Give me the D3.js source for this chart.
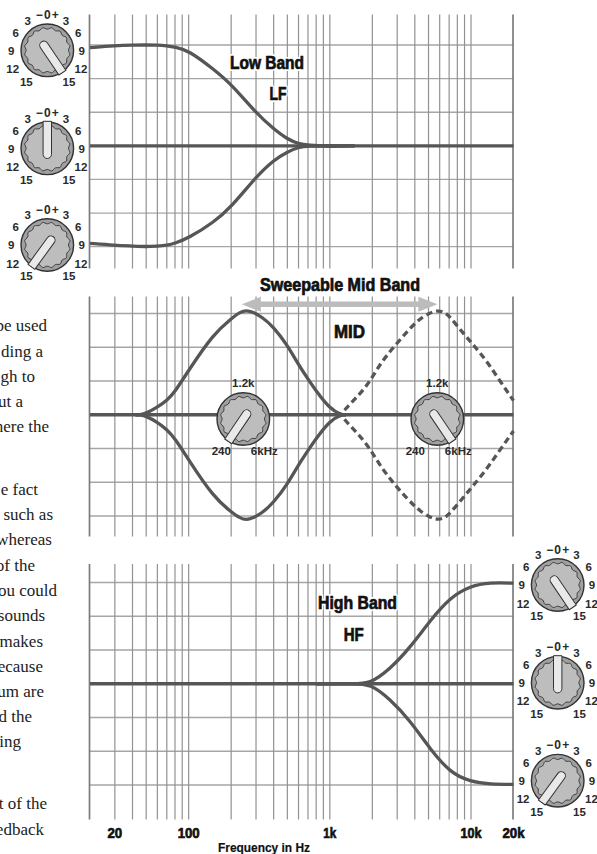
<!DOCTYPE html>
<html><head><meta charset="utf-8">
<script src="https://cdn.jsdelivr.net/npm/d3@7"></script>
<style>
html,body{margin:0;padding:0;background:#fff}
svg{display:block}
.nar{font-family:"Liberation Sans",sans-serif;font-weight:700;fill:#111;stroke:#111;stroke-width:.7px}
.halo{font-family:"Liberation Sans",sans-serif;font-weight:700;fill:#fff;stroke:#fff;stroke-width:4px;stroke-linejoin:round}
.kn{font-family:"Liberation Sans",Arial,sans-serif;font-size:11.5px;font-weight:700;fill:#2a2a2a;text-anchor:middle}
.body{font-family:"Liberation Serif",serif;font-size:17px;fill:#222;text-anchor:end}
</style></head><body>
<svg id="c" width="597" height="854"></svg>
<script>
// ---- data ----
const gridFreqs=[30,40,50,60,70,80,90,100,200,300,400,500,600,700,800,900,1000,2000,3000,4000,5000,6000,7000,8000,9000,10000];
const frameFreqs=[20,20000];
const gainTicks=[-15,-10,-5,0,5,10,15];
const tickFreqs=[30,100,1000,10000,20000];
const tickLabels=["20","100","1k","10k","20k"];
const tickWidths=[14.7,22,13,21,22];

const flatF=[20,20000];
const flatG=[0,0];

const lfF=[20,30,40,50,60,70,80,100,150,200,300,400,500,600,700,1000,1500];
const lfBoost=[14.6,14.9,15,15,15,14.9,14.7,14.2,11.4,9.2,4.9,2.5,1.0,0.3,0.1,0,0];
const lfCut=[-14.5,-14.8,-14.9,-15,-14.9,-14.8,-14.5,-13.7,-11.4,-9.1,-4.6,-2.1,-0.9,-0.2,0,-0.1,0];

const midF=[42,45,50,60,70,80,100,150,200,230,257,285,330,400,500,600,700,800,1000,1200,1300];
const midBoost=[0,0,0.2,1.1,2.1,3.4,6.6,12,14.2,15.2,15.5,15.2,14.5,13,10.3,7.4,5.3,3.5,0.9,0,0];
const midCut=[0,0,-0.2,-1.1,-2.2,-3.5,-6.7,-12.2,-14.4,-15.3,-15.6,-15.3,-14.6,-13,-10.3,-7.4,-5.3,-3.5,-0.9,0,0];

const midHiF=[1100,1200,1288,1834,2265,2990,4140,5100,5900,6600,7100,8870,10450,12980,16040,20000];
const midHiBoost=[0,0,0.9,4.1,7.6,10.6,14,15.1,15.5,15.1,14.5,12,10.3,7.9,5,2.1];
const midHiCut=[0,0,-0.9,-4.2,-7.6,-10.8,-14,-15.2,-15.6,-15.2,-14.6,-12.2,-10.4,-8,-5.2,-2.4];

const hfF=[800,1500,1926,2680,3716,5145,7130,9886,13690,20000,20000,20000];
const hfBoost=[0,0,0,2.2,5.4,9.4,12.8,14.5,15,14.9,14.9,14.9];
const hfCut=[0,0,0,-2.3,-5.5,-9.7,-13.2,-14.5,-14.9,-14.9,-14.9,-14.9];

const gainLabels=[["3",-19.6,-29.6],["3",18.7,-29.6],["6",-31.6,-17.6],["6",31,-17.6],["9",-36,0.4],["9",34.3,0.4],["12",-34.6,18.7],["12",33.7,18.7],["15",-21,31.4],["15",21.7,31.4]];
const bodyLines=[["be used",47,331],["ding a",43,357],["gh to",35,382],["ut a",23,407],["here the",49,432],["e fact",38,495],["such as",53,520],["whereas",52,545],["of the",35,571],["ou could",57,596],["sounds",45,621],["makes",43,647],["ecause",43,672],["um are",44,697],["d the",32,722],["ing",21,747],["t of the",47,809],["edback",44,835]];
const titles=[["Low Band",267,69,74],["LF",278,100,17],["Sweepable Mid Band",340,291,160],["MID",349.5,338,31],["High Band",357.5,609,79],["HF",353.7,641,20]];

// ---- scales ----
const svg=d3.select("#c");
const x=d3.scaleLog().domain([20,20000]).range([90,513.5]);
const panels=[
 {top:14.5,bot:268.5,y15:45,y_15:246.7},
 {top:296.5,bot:536.5,y15:313.5,y_15:516},
 {top:564,bot:819.5,y15:582.5,y_15:785}
];
panels.forEach(p=>p.y=d3.scaleLinear().domain([15,-15]).range([p.y15,p.y_15]));

// ---- grid ----
panels.forEach(p=>{
  const g=svg.append("g");
  g.selectAll(".h").data(gainTicks).join("line")
    .attr("x1",x(20)).attr("x2",x(20000)).attr("y1",d=>p.y(d)).attr("y2",d=>p.y(d))
    .attr("stroke","#a6a6a6").attr("stroke-width",1.3);
  g.selectAll(".v").data(gridFreqs).join("line")
    .attr("x1",d=>x(d)).attr("x2",d=>x(d)).attr("y1",p.top).attr("y2",p.bot)
    .attr("stroke","#929292").attr("stroke-width",1.2);
  g.selectAll(".f").data(frameFreqs).join("line")
    .attr("x1",d=>x(d)-.5).attr("x2",d=>x(d)-.5).attr("y1",p.top).attr("y2",p.bot)
    .attr("stroke","#7c7c7c").attr("stroke-width",1.7);
});

// ---- title halos sit between the grid and the curves ----
function fit(sel,d,h){
  sel.attr("x",d[1]).attr("y",d[2]).attr("text-anchor","middle")
    .attr("textLength",d[3]).attr("lengthAdjust","spacingAndGlyphs")
    .style("font-size",h+"px").text(d[0]);
}
titles.filter(d=>d[0]!=="Sweepable Mid Band").forEach(d=>fit(svg.append("text").attr("class","halo"),d,17.5));

// ---- curves ----
function curve(p,fs,gs,dash){
  const l=d3.line().x((d,i)=>x(fs[i])).y(d=>p.y(d)).curve(d3.curveBasis);
  svg.append("path").attr("d",l(gs)).attr("fill","none").attr("stroke","#565656")
    .attr("stroke-width",3.3).attr("stroke-dasharray",dash||null);
}
curve(panels[0],flatF,flatG);curve(panels[0],lfF,lfBoost);curve(panels[0],lfF,lfCut);
curve(panels[1],flatF,flatG);curve(panels[1],midF,midBoost);curve(panels[1],midF,midCut);
curve(panels[1],midHiF,midHiBoost,"6.5 4");curve(panels[1],midHiF,midHiCut,"6.5 4");
curve(panels[2],flatF,flatG);curve(panels[2],hfF,hfBoost);curve(panels[2],hfF,hfCut);

// ---- arrow ----
const ay=304.3,x0=x(250),x1=x(5500);
svg.append("path").attr("fill","#bcbcbc")
 .attr("d",`M${x0-3},${ay}L${x0+16},${ay-7.5}L${x0+16},${ay-2.7}L${x1-16},${ay-2.7}L${x1-16},${ay-7.5}L${x1+3},${ay}L${x1-16},${ay+7.5}L${x1-16},${ay+2.7}L${x0+16},${ay+2.7}L${x0+16},${ay+7.5}Z`);

// ---- knobs ----
const wave=d3.lineRadial().curve(d3.curveBasisClosed);
const wavePts=d3.range(0,32).map(i=>[i/32*2*Math.PI,i%2?25:19.5]);
function knob(cx,cy,angle,labels){
  const g=svg.append("g").attr("transform",`translate(${cx},${cy})`);
  g.append("circle").attr("r",26.3).attr("fill","#a0a0a0").attr("stroke","#333").attr("stroke-width",1.4);
  g.append("path").attr("d",wave(wavePts)).attr("fill","#bdbdbd").attr("stroke","#333").attr("stroke-width",.9);
  g.append("path").attr("transform",`rotate(${angle})`)
    .attr("d","M-4.2,-27L4.2,-27L4.2,6A4.2,4.2 0 0 1 -4.2,6Z")
    .attr("fill","#e9e9e9").attr("stroke","#333").attr("stroke-width",1);
  labels.forEach(d=>g.append("text").attr("class","kn").attr("x",d[1]).attr("y",d[2]+4).text(d[0]));
  return g;
}
function gainKnob(cx,cy,a){
  const g=knob(cx,cy,a,gainLabels);
  g.append("text").attr("class","kn").attr("x",0).attr("y",-31.5).style("font-size","12px")
   .attr("textLength",23).attr("lengthAdjust","spacing").text("\u22120+");
}
gainKnob(47.3,50.3,146);gainKnob(47.3,148.3,0);gainKnob(47.3,245,-144);
gainKnob(557.7,585,146);gainKnob(557.7,682.7,0);gainKnob(557.7,780.7,-144);
const midLabels=[["1.2k",0,-35.7],["240",-22,32],["6kHz",21,32]];
knob(243.3,419,-146,midLabels);knob(437.3,419,146,midLabels);

// ---- titles ----
titles.forEach(d=>fit(svg.append("text").attr("class","nar"),d,17.5));

// ---- axis labels ----
svg.append("g").selectAll("text").data(tickFreqs).join("text").attr("class","nar")
  .attr("x",d=>x(d)).attr("y",838).attr("text-anchor","middle").style("font-size","14.5px")
  .attr("textLength",(d,i)=>tickWidths[i]).attr("lengthAdjust","spacingAndGlyphs")
  .text((d,i)=>tickLabels[i]);
svg.append("text").attr("class","nar").attr("x",264).attr("y",851.5).attr("text-anchor","middle")
  .attr("textLength",92).attr("lengthAdjust","spacingAndGlyphs")
  .style("font-size","12.5px").style("stroke-width",".2px").text("Frequency in Hz");

// ---- clipped body text ----
svg.append("g").selectAll("text").data(bodyLines).join("text").attr("class","body")
  .attr("x",d=>d[1]).attr("y",d=>d[2]).text(d=>d[0]);
</script>
</body></html>
